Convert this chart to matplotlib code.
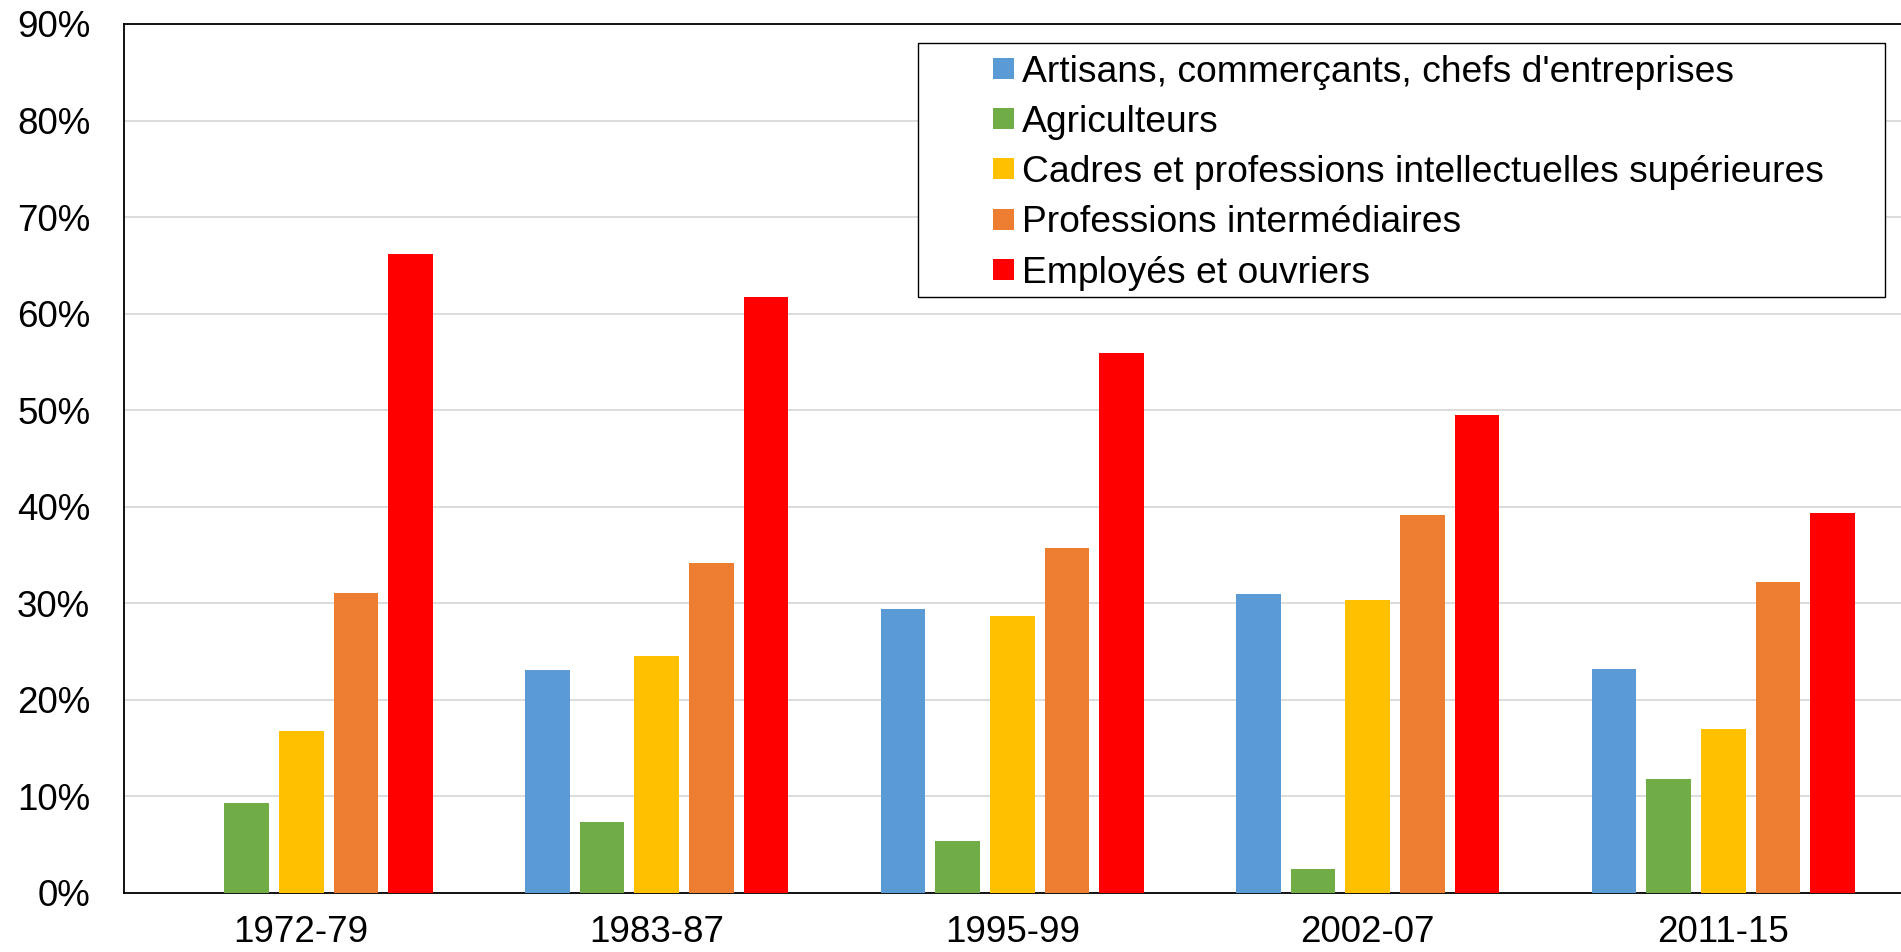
import matplotlib
matplotlib.use("Agg")
import matplotlib.pyplot as plt
import numpy as np
from matplotlib.patches import Rectangle

plt.rcParams["font.family"] = ["Liberation Sans", "DejaVu Sans"]

periods = ["1972-79", "1983-87", "1995-99", "2002-07", "2011-15"]
groups = [
    "Artisans, commerçants, chefs d'entreprises",
    "Agriculteurs",
    "Cadres et professions intellectuelles supérieures",
    "Professions intermédiaires",
    "Employés et ouvriers",
]
artisans = [np.nan, 23.1, 29.4, 31.0, 23.2]
agriculteurs = [9.3, 7.4, 5.4, 2.5, 11.8]
cadres = [16.8, 24.5, 28.7, 30.3, 17.0]
intermediaires = [31.1, 34.2, 35.7, 39.1, 32.2]
employes = [66.2, 61.7, 55.9, 49.5, 39.4]
colors = ["#5B9BD5", "#70AD47", "#FFC000", "#ED7D31", "#FF0000"]

series = [artisans, agriculteurs, cadres, intermediaires, employes]

W, H = 1901, 952
fig = plt.figure(figsize=(W / 100, H / 100), dpi=100)
ax = fig.add_axes([123.5 / W, 59 / H, 1 - 123.5 / W, (893 - 24) / H])

x = np.arange(len(periods))
stride = 0.1538
width = 0.1257
for j, (vals, name, c) in enumerate(zip(series, groups, colors)):
    ax.bar(x + (j - 2) * stride, vals, width, color=c, label=name, zorder=3)

ax.set_xlim(-0.5, len(periods) - 0.5)
ax.set_ylim(0, 90)
yt = np.arange(0, 91, 10)
ax.set_yticks(yt)
ax.set_yticklabels([f"{v}%" for v in yt])
ax.set_xticks(x)
ax.set_xticklabels(periods)
ax.tick_params(axis="y", length=0, pad=24, labelsize=26.5)
ax.tick_params(axis="x", length=0, pad=16, labelsize=26.5)
ax.yaxis.grid(True, color="#d9d9d9", lw=1.3, zorder=0)
ax.set_axisbelow(True)

for s in ["left", "bottom", "top"]:
    ax.spines[s].set_linewidth(1.3)
    ax.spines[s].set_color("black")
ax.spines["right"].set_visible(False)

leg = ax.legend(
    loc="upper left",
    bbox_to_anchor=(992.5 / W, 1 - 54.5 / H),
    bbox_transform=fig.transFigure,
    frameon=False,
    fontsize=26.8,
    borderpad=0,
    borderaxespad=0,
    handlelength=0.565,
    handleheight=0.49,
    handletextpad=0.215,
    labelspacing=0.41,
)
leg.set_zorder(6)

# legend box drawn by hand: its padding is wider than matplotlib allows
box = Rectangle((918 / W, 1 - 297 / H), (1885 - 918) / W, (297 - 42.7) / H,
                transform=fig.transFigure, facecolor="white",
                edgecolor="black", lw=1.0, zorder=5, clip_on=False)
ax.add_patch(box)

fig.savefig("out.png", dpi=100)
